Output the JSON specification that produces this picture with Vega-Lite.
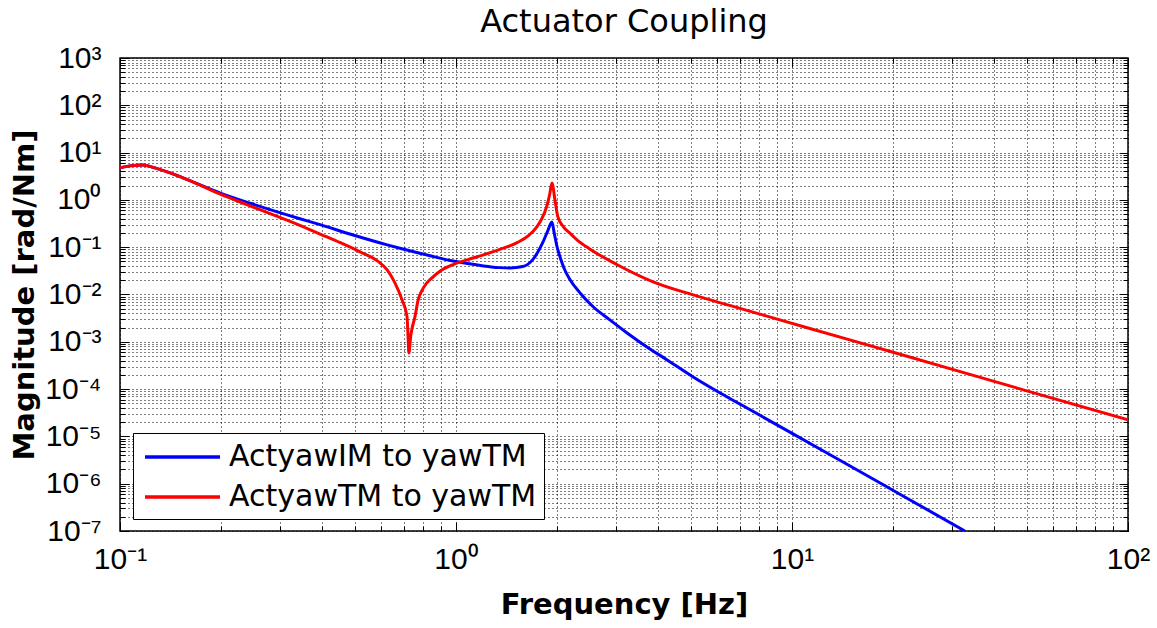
{
  "$schema": "https://vega.github.io/schema/vega-lite/v6.json",
  "autosize": "none",
  "padding": {"left": 120, "top": 58, "right": 29, "bottom": 97},
  "width": 1008,
  "height": 473,
  "background": "white",
  "title": {"text": "Actuator Coupling", "font": "DejaVu Sans", "fontSize": 32, "fontWeight": "normal", "color": "black", "anchor": "middle", "offset": 4},
  "config": {
    "view": {"stroke": "black", "strokeWidth": 1.5, "fill": "white"},
    "axis": {"domain": false}
  },
  "datasets": {
    "curves": [
      {"s": "ActyawIM to yawTM", "f": 0.1, "m": 4.75},
      {"s": "ActyawIM to yawTM", "f": 0.107, "m": 5.24},
      {"s": "ActyawIM to yawTM", "f": 0.117, "m": 5.5},
      {"s": "ActyawIM to yawTM", "f": 0.127, "m": 4.75},
      {"s": "ActyawIM to yawTM", "f": 0.141, "m": 3.72},
      {"s": "ActyawIM to yawTM", "f": 0.162, "m": 2.52},
      {"s": "ActyawIM to yawTM", "f": 0.198, "m": 1.41},
      {"s": "ActyawIM to yawTM", "f": 0.244, "m": 0.85},
      {"s": "ActyawIM to yawTM", "f": 0.343, "m": 0.4},
      {"s": "ActyawIM to yawTM", "f": 0.394, "m": 0.3},
      {"s": "ActyawIM to yawTM", "f": 0.483, "m": 0.19},
      {"s": "ActyawIM to yawTM", "f": 0.624, "m": 0.112},
      {"s": "ActyawIM to yawTM", "f": 0.681, "m": 0.095},
      {"s": "ActyawIM to yawTM", "f": 0.837, "m": 0.066},
      {"s": "ActyawIM to yawTM", "f": 0.98, "m": 0.051},
      {"s": "ActyawIM to yawTM", "f": 1.1, "m": 0.0445},
      {"s": "ActyawIM to yawTM", "f": 1.25, "m": 0.039},
      {"s": "ActyawIM to yawTM", "f": 1.35, "m": 0.037},
      {"s": "ActyawIM to yawTM", "f": 1.45, "m": 0.0365},
      {"s": "ActyawIM to yawTM", "f": 1.58, "m": 0.039},
      {"s": "ActyawIM to yawTM", "f": 1.69, "m": 0.054},
      {"s": "ActyawIM to yawTM", "f": 1.81, "m": 0.123},
      {"s": "ActyawIM to yawTM", "f": 1.87, "m": 0.21},
      {"s": "ActyawIM to yawTM", "f": 1.93, "m": 0.343},
      {"s": "ActyawIM to yawTM", "f": 1.96, "m": 0.2},
      {"s": "ActyawIM to yawTM", "f": 2.0, "m": 0.1},
      {"s": "ActyawIM to yawTM", "f": 2.04, "m": 0.062},
      {"s": "ActyawIM to yawTM", "f": 2.1, "m": 0.035},
      {"s": "ActyawIM to yawTM", "f": 2.18, "m": 0.021},
      {"s": "ActyawIM to yawTM", "f": 2.34, "m": 0.0108},
      {"s": "ActyawIM to yawTM", "f": 2.56, "m": 0.0055},
      {"s": "ActyawIM to yawTM", "f": 2.87, "m": 0.0029},
      {"s": "ActyawIM to yawTM", "f": 3.23, "m": 0.00154},
      {"s": "ActyawIM to yawTM", "f": 3.7, "m": 0.00078},
      {"s": "ActyawIM to yawTM", "f": 4.25, "m": 0.000414},
      {"s": "ActyawIM to yawTM", "f": 5.08, "m": 0.000181},
      {"s": "ActyawIM to yawTM", "f": 6.11, "m": 0.000083},
      {"s": "ActyawIM to yawTM", "f": 7.35, "m": 0.0000398},
      {"s": "ActyawIM to yawTM", "f": 10.07, "m": 0.0000113},
      {"s": "ActyawIM to yawTM", "f": 14.8, "m": 0.00000243},
      {"s": "ActyawIM to yawTM", "f": 20.7, "m": 0.00000063},
      {"s": "ActyawIM to yawTM", "f": 32.7, "m": 0.0000001},
      {"s": "ActyawTM to yawTM", "f": 0.1, "m": 4.75},
      {"s": "ActyawTM to yawTM", "f": 0.107, "m": 5.24},
      {"s": "ActyawTM to yawTM", "f": 0.117, "m": 5.5},
      {"s": "ActyawTM to yawTM", "f": 0.127, "m": 4.75},
      {"s": "ActyawTM to yawTM", "f": 0.141, "m": 3.72},
      {"s": "ActyawTM to yawTM", "f": 0.162, "m": 2.52},
      {"s": "ActyawTM to yawTM", "f": 0.198, "m": 1.34},
      {"s": "ActyawTM to yawTM", "f": 0.244, "m": 0.746},
      {"s": "ActyawTM to yawTM", "f": 0.343, "m": 0.29},
      {"s": "ActyawTM to yawTM", "f": 0.394, "m": 0.19},
      {"s": "ActyawTM to yawTM", "f": 0.452, "m": 0.125},
      {"s": "ActyawTM to yawTM", "f": 0.518, "m": 0.08},
      {"s": "ActyawTM to yawTM", "f": 0.582, "m": 0.052},
      {"s": "ActyawTM to yawTM", "f": 0.624, "m": 0.0331},
      {"s": "ActyawTM to yawTM", "f": 0.658, "m": 0.0176},
      {"s": "ActyawTM to yawTM", "f": 0.691, "m": 0.00769},
      {"s": "ActyawTM to yawTM", "f": 0.715, "m": 0.00336},
      {"s": "ActyawTM to yawTM", "f": 0.72, "m": 0.00127},
      {"s": "ActyawTM to yawTM", "f": 0.724, "m": 0.00058},
      {"s": "ActyawTM to yawTM", "f": 0.734, "m": 0.0014},
      {"s": "ActyawTM to yawTM", "f": 0.755, "m": 0.0034},
      {"s": "ActyawTM to yawTM", "f": 0.771, "m": 0.0075},
      {"s": "ActyawTM to yawTM", "f": 0.798, "m": 0.0135},
      {"s": "ActyawTM to yawTM", "f": 0.855, "m": 0.0236},
      {"s": "ActyawTM to yawTM", "f": 0.896, "m": 0.031},
      {"s": "ActyawTM to yawTM", "f": 0.98, "m": 0.043},
      {"s": "ActyawTM to yawTM", "f": 1.08, "m": 0.054},
      {"s": "ActyawTM to yawTM", "f": 1.2, "m": 0.068},
      {"s": "ActyawTM to yawTM", "f": 1.35, "m": 0.09},
      {"s": "ActyawTM to yawTM", "f": 1.52, "m": 0.125},
      {"s": "ActyawTM to yawTM", "f": 1.65, "m": 0.18},
      {"s": "ActyawTM to yawTM", "f": 1.74, "m": 0.269},
      {"s": "ActyawTM to yawTM", "f": 1.8, "m": 0.4},
      {"s": "ActyawTM to yawTM", "f": 1.86, "m": 0.711},
      {"s": "ActyawTM to yawTM", "f": 1.9, "m": 1.3},
      {"s": "ActyawTM to yawTM", "f": 1.93, "m": 2.29},
      {"s": "ActyawTM to yawTM", "f": 1.97, "m": 1.0},
      {"s": "ActyawTM to yawTM", "f": 2.01, "m": 0.437},
      {"s": "ActyawTM to yawTM", "f": 2.08, "m": 0.28},
      {"s": "ActyawTM to yawTM", "f": 2.18, "m": 0.2},
      {"s": "ActyawTM to yawTM", "f": 2.3, "m": 0.14},
      {"s": "ActyawTM to yawTM", "f": 2.5, "m": 0.092},
      {"s": "ActyawTM to yawTM", "f": 3.01, "m": 0.043},
      {"s": "ActyawTM to yawTM", "f": 3.86, "m": 0.0185},
      {"s": "ActyawTM to yawTM", "f": 5.08, "m": 0.0098},
      {"s": "ActyawTM to yawTM", "f": 6.68, "m": 0.0056},
      {"s": "ActyawTM to yawTM", "f": 8.78, "m": 0.0032},
      {"s": "ActyawTM to yawTM", "f": 11.3, "m": 0.00191},
      {"s": "ActyawTM to yawTM", "f": 20, "m": 0.0006},
      {"s": "ActyawTM to yawTM", "f": 50, "m": 0.0000918},
      {"s": "ActyawTM to yawTM", "f": 100, "m": 0.0000225}
    ]
  },
  "data": {"name": "curves"},
  "layer": [
    {
      "mark": {"type": "line", "strokeWidth": 3, "clip": true, "interpolate": "monotone"},
      "encoding": {
        "x": {
          "field": "f", "type": "quantitative",
          "scale": {"type": "log", "domain": [0.1, 100], "nice": false},
          "axis": {
            "orient": "bottom",
            "title": "Frequency [Hz]",
            "titleFont": "DejaVu Sans", "titleFontSize": 29, "titleFontWeight": "bold", "titleColor": "black", "titlePadding": 12,
            "values": [0.1,0.2,0.3,0.4,0.5,0.6,0.7,0.8,0.9,1,2,3,4,5,6,7,8,9,10,20,30,40,50,60,70,80,90,100],
            "labelExpr": "abs(log(datum.value)/LN10 - round(log(datum.value)/LN10)) < 0.01 ? '10' + replace(replace(replace(replace(replace(replace(replace(replace(replace(replace(replace('' + round(log(datum.value)/LN10), '-', '⁻'), '0', '⁰'), '1', '¹'), '2', '²'), '3', '³'), '4', '⁴'), '5', '⁵'), '6', '⁶'), '7', '⁷'), '8', '⁸'), '9', '⁹') : ''",
            "labelFont": "Liberation Sans", "labelFontSize": 30, "labelColor": "black", "labelPadding": 22, "labelFlush": false, "labelOverlap": false,
            "grid": true, "gridColor": "black", "gridDash": [1, 3], "gridWidth": 1, "gridOpacity": 1,
            "ticks": true, "tickColor": "black", "tickWidth": 1,
            "tickSize": {"condition": {"test": "abs(log(datum.value)/LN10 - round(log(datum.value)/LN10)) < 0.01", "value": -9}, "value": -5}
          }
        },
        "y": {
          "field": "m", "type": "quantitative",
          "scale": {"type": "log", "domain": [0.0000001, 1000], "nice": false},
          "axis": {
            "orient": "left",
            "title": "Magnitude [rad/Nm]",
            "titleFont": "DejaVu Sans", "titleFontSize": 29, "titleFontWeight": "bold", "titleColor": "black", "titlePadding": 5,
            "values": [1e-7,2e-7,3e-7,4e-7,5e-7,6e-7,7e-7,8e-7,9e-7,1e-6,2e-6,3e-6,4e-6,5e-6,6e-6,7e-6,8e-6,9e-6,1e-5,2e-5,3e-5,4e-5,5e-5,6e-5,7e-5,8e-5,9e-5,1e-4,2e-4,3e-4,4e-4,5e-4,6e-4,7e-4,8e-4,9e-4,0.001,0.002,0.003,0.004,0.005,0.006,0.007,0.008,0.009,0.01,0.02,0.03,0.04,0.05,0.06,0.07,0.08,0.09,0.1,0.2,0.3,0.4,0.5,0.6,0.7,0.8,0.9,1,2,3,4,5,6,7,8,9,10,20,30,40,50,60,70,80,90,100,200,300,400,500,600,700,800,900,1000],
            "labelExpr": "abs(log(datum.value)/LN10 - round(log(datum.value)/LN10)) < 0.01 ? '10' + replace(replace(replace(replace(replace(replace(replace(replace(replace(replace(replace('' + round(log(datum.value)/LN10), '-', '⁻'), '0', '⁰'), '1', '¹'), '2', '²'), '3', '³'), '4', '⁴'), '5', '⁵'), '6', '⁶'), '7', '⁷'), '8', '⁸'), '9', '⁹') : ''",
            "labelFont": "Liberation Sans", "labelFontSize": 30, "labelColor": "black", "labelPadding": 28, "labelFlush": false, "labelOverlap": false, "labelBaseline": "middle",
            "grid": true, "gridColor": "black", "gridDash": [1, 3], "gridWidth": 1, "gridOpacity": 1,
            "ticks": true, "tickColor": "black", "tickWidth": 1,
            "tickSize": {"condition": {"test": "abs(log(datum.value)/LN10 - round(log(datum.value)/LN10)) < 0.01", "value": -9}, "value": -5}
          }
        },
        "color": {
          "field": "s", "type": "nominal",
          "scale": {"domain": ["ActyawIM to yawTM", "ActyawTM to yawTM"], "range": ["#0000ff", "#ff0000"]},
          "legend": {
            "title": null, "orient": "none", "legendX": 13, "legendY": 375,
            "symbolType": "M-0.8,0H4.2", "symbolSize": 900, "symbolStrokeWidth": 3.5, "symbolFillColor": "transparent",
            "labelFont": "DejaVu Sans", "labelFontSize": 30, "labelColor": "black", "labelOffset": 55, "labelLimit": 500,
            "rowPadding": 8, "padding": 7, "strokeColor": "black", "fillColor": "white", "cornerRadius": 0
          }
        }
      }
    },
    {
      "mark": {"type": "point", "opacity": 0},
      "encoding": {
        "x": {
          "field": "f", "type": "quantitative",
          "axis": {
            "orient": "top", "title": null, "labels": false, "grid": false,
            "values": [0.1,0.2,0.3,0.4,0.5,0.6,0.7,0.8,0.9,1,2,3,4,5,6,7,8,9,10,20,30,40,50,60,70,80,90,100],
            "ticks": true, "tickColor": "black", "tickWidth": 1,
            "tickSize": {"condition": {"test": "abs(log(datum.value)/LN10 - round(log(datum.value)/LN10)) < 0.01", "value": -9}, "value": -5}
          }
        },
        "y": {
          "field": "m", "type": "quantitative",
          "axis": {
            "orient": "right", "title": null, "labels": false, "grid": false,
            "values": [1e-7,2e-7,3e-7,4e-7,5e-7,6e-7,7e-7,8e-7,9e-7,1e-6,2e-6,3e-6,4e-6,5e-6,6e-6,7e-6,8e-6,9e-6,1e-5,2e-5,3e-5,4e-5,5e-5,6e-5,7e-5,8e-5,9e-5,1e-4,2e-4,3e-4,4e-4,5e-4,6e-4,7e-4,8e-4,9e-4,0.001,0.002,0.003,0.004,0.005,0.006,0.007,0.008,0.009,0.01,0.02,0.03,0.04,0.05,0.06,0.07,0.08,0.09,0.1,0.2,0.3,0.4,0.5,0.6,0.7,0.8,0.9,1,2,3,4,5,6,7,8,9,10,20,30,40,50,60,70,80,90,100,200,300,400,500,600,700,800,900,1000],
            "ticks": true, "tickColor": "black", "tickWidth": 1,
            "tickSize": {"condition": {"test": "abs(log(datum.value)/LN10 - round(log(datum.value)/LN10)) < 0.01", "value": -9}, "value": -5}
          }
        }
      }
    }
  ],
  "resolve": {"axis": {"x": "independent", "y": "independent"}}
}
